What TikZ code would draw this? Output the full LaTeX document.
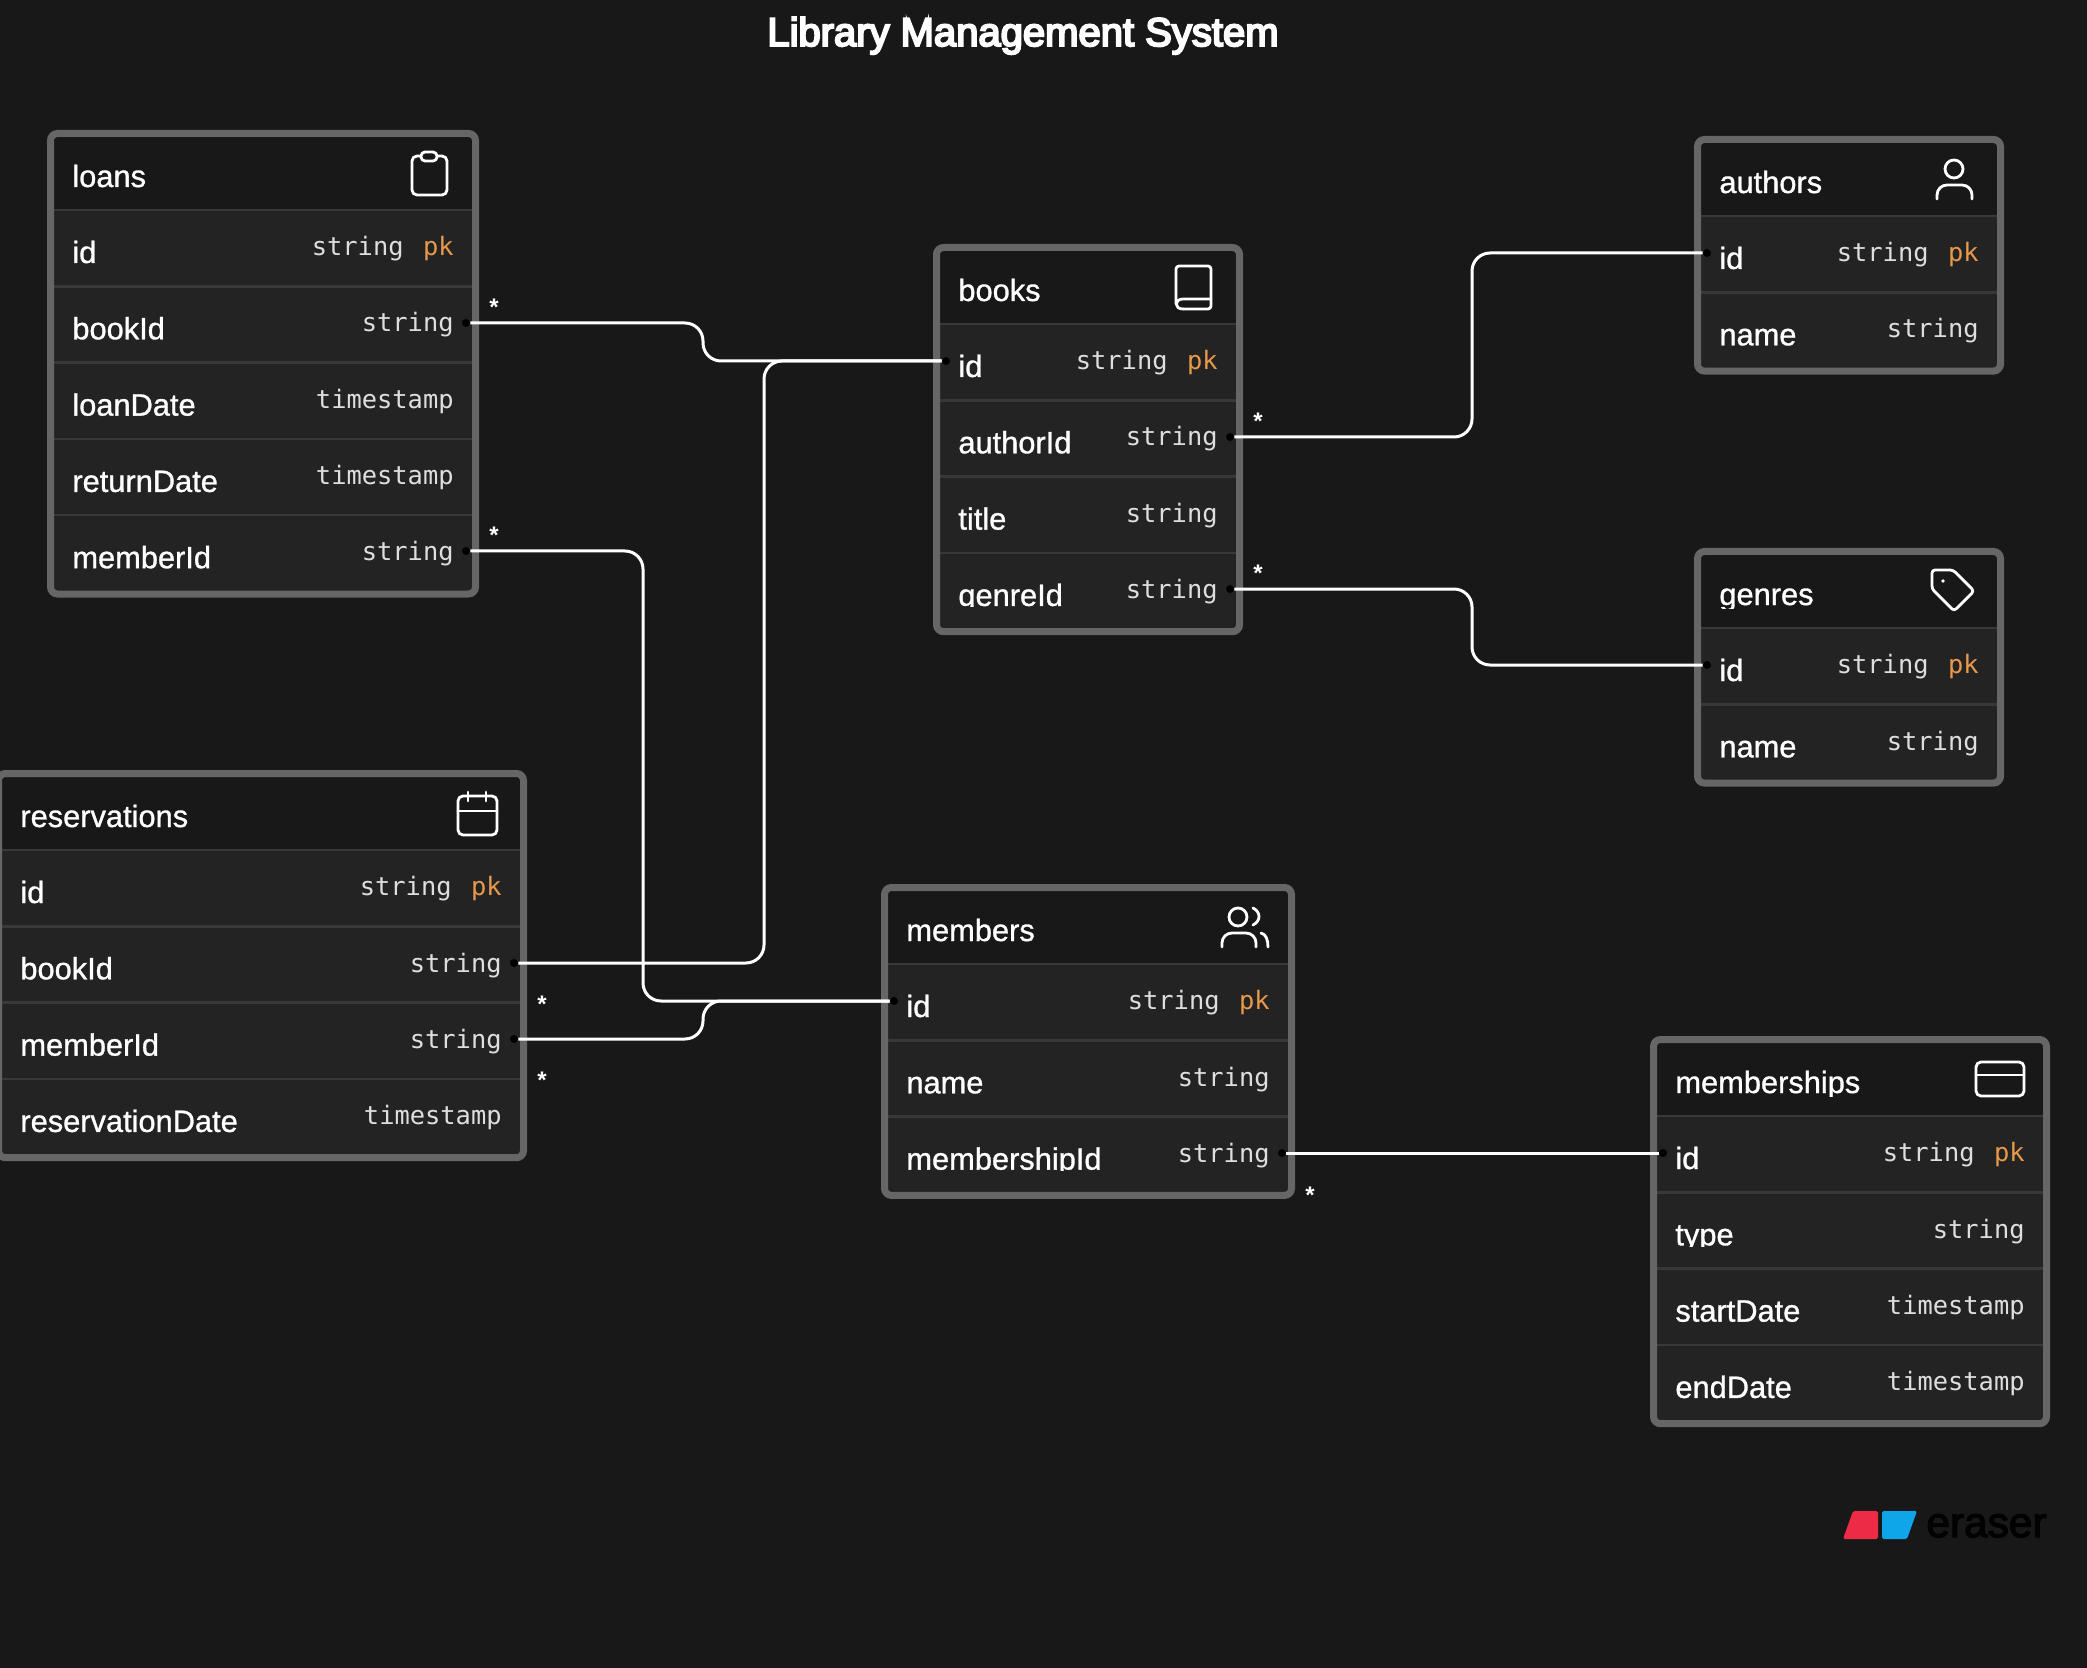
\documentclass[tikz,border=0pt]{standalone}
\usepackage{fontspec}
\setmainfont{Liberation Sans}
\setmonofont{DejaVu Sans Mono}
\newfontfamily\headingfont[FakeBold=5]{Liberation Sans}
\newfontfamily\fieldfont[FakeBold=1]{Liberation Sans}
\newfontfamily\logofont[FakeBold=3]{Liberation Sans}
\definecolor{bgdark}{HTML}{181818}
\definecolor{rowbg}{HTML}{232323}
\definecolor{rowline}{HTML}{383838}
\definecolor{tableborder}{HTML}{666666}
\definecolor{typegray}{HTML}{DEDEDE}
\definecolor{pkorange}{HTML}{E8994A}
\definecolor{eraserred}{HTML}{EE2B46}
\definecolor{eraserblue}{HTML}{0EA5E9}
\tikzset{
  fieldname/.style={text=white,inner sep=0pt,anchor=base west,font=\fieldfont\fontsize{15.4}{18}\selectfont},
  fieldtype/.style={text=typegray,inner sep=0pt,anchor=base east,font=\ttfamily\fontsize{12.7}{15}\selectfont},
  pkmark/.style={fieldtype,text=pkorange},
  port/.style={circle,fill=black,inner sep=0pt,minimum size=4pt},
  link/.style={white,line width=1.5pt,rounded corners=9pt},
  many/.style={text=white,inner sep=0pt,font=\bfseries\fontsize{12}{12}\selectfont},
  icon/.style={white,line width=1.4pt,line cap=round,line join=round}
}
% id, left, top, right, title, rows
\newcommand{\erdtable}[6]{
  \def\rowh{76.3}
  \foreach \fname/\ftype [count=\i] in {#6} \global\let\nrows\i;
  \fill[rowbg,rounded corners=3pt] ({#2+3},{#3+3}) rectangle ({#4-3},{#3+86+\rowh*\nrows-3});
  \fill[bgdark] ({#2+3},{#3+3}) rectangle ({#4-3},{#3+80});
  \begin{scope}
    \clip ({#2+3},{#3+3}) rectangle ({#4-3},{#3+60});
    \node[fieldname] (#1-title) at ({#2+25},{#3+57}) {#5};
  \end{scope}
  \foreach \fname/\ftype [count=\i] in {#6} {
    \draw[rowline,line width=1.25pt] ({#2+5},{#3+80+\rowh*(\i-1)}) -- ({#4-5},{#3+80+\rowh*(\i-1)});
    \begin{scope}
      \clip ({#2+3},{#3+80+\rowh*(\i-1)}) rectangle ({#4-3},{#3+80+\rowh*(\i-1)+54});
      \node[fieldname] (#1-name\i) at ({#2+25},{#3+80+\rowh*(\i-1)+53}) {\fname};
    \end{scope}
    \ifnum\i=1
      \node[pkmark] (#1-pk) at ({#4-25},{#3+80+45.7}) {pk};
      \node[fieldtype] (#1-type1) at ({#4-75},{#3+80+45.7}) {\ftype};
    \else
      \node[fieldtype] (#1-type\i) at ({#4-25},{#3+80+\rowh*(\i-1)+45.7}) {\ftype};
    \fi
  }
  \draw[tableborder,line width=3.5pt,rounded corners=3.5pt] ({#2+3.5},{#3+3.5}) rectangle ({#4-3.5},{#3+82.5+\rowh*\nrows});
}
\begin{document}
\begin{tikzpicture}[x=0.5pt,y=-0.5pt]
  \useasboundingbox (0,0) rectangle (2087,1668);
  \fill[bgdark] (0,0) rectangle (2087,1668);

  \node[text=white,inner sep=0pt,anchor=base,font=\headingfont\fontsize{20}{24}\selectfont] (heading) at (1023,46) {Library Management System};

  \erdtable{loans}{47}{130}{479}{loans}{id/string,bookId/string,loanDate/timestamp,returnDate/timestamp,memberId/string}
  \erdtable{books}{933}{244}{1243}{books}{id/string,authorId/string,title/string,genreId/string}
  \erdtable{authors}{1694}{136}{2004}{authors}{id/string,name/string}
  \erdtable{genres}{1694}{548}{2004}{genres}{id/string,name/string}
  \erdtable{reservations}{-5}{770}{527}{reservations}{id/string,bookId/string,memberId/string,reservationDate/timestamp}
  \erdtable{members}{881}{884}{1295}{members}{id/string,name/string,membershipId/string}
  \erdtable{memberships}{1650}{1036}{2050}{memberships}{id/string,type/string,startDate/timestamp,endDate/timestamp}

  % ports
  \node[port] (loansBook) at (466,323) {};
  \node[port] (loansMember) at (466,551) {};
  \node[port] (booksId) at (946,361) {};
  \node[port] (booksAuthor) at (1230,437) {};
  \node[port] (booksGenre) at (1230,589) {};
  \node[port] (authorsId) at (1707,253) {};
  \node[port] (genresId) at (1707,665) {};
  \node[port] (resBook) at (514,963) {};
  \node[port] (resMember) at (514,1039) {};
  \node[port] (membersId) at (894,1001) {};
  \node[port] (membersShip) at (1282,1153) {};
  \node[port] (shipsId) at (1663,1153) {};

  % bends
  \coordinate (bendA) at (703,342);
  \coordinate (bendB) at (764,700);
  \coordinate (bendC) at (643,800);
  \coordinate (bendD) at (703,1020);
  \coordinate (bendE) at (1472,345);
  \coordinate (bendF) at (1472,627);

  \foreach \from/\bend/\to in {loansBook/bendA/booksId,resBook/bendB/booksId,loansMember/bendC/membersId,resMember/bendD/membersId,booksAuthor/bendE/authorsId,booksGenre/bendF/genresId}
    \draw[link] (\from) -- (\from -| \bend) -- (\to -| \bend) -- (\to);
  \draw[link] (membersShip) -- (shipsId);

  % many marks
  \foreach \sx/\sy [count=\k] in {494/307,494/535,1258/421,1258/573,542/1004,542/1080,1310/1195}
    \node[many] (star\k) at (\sx,\sy) {*};

  % icons
  \draw[icon,rounded corners=2.5pt] (412,156) rectangle (447,195);
  \draw[icon,fill=bgdark,rounded corners=2pt] (421,152) rectangle (437,161);
  \draw[icon] (1954,169) circle (4.5pt);
  \draw[icon,rounded corners=5pt] (1937,199) -- (1937,185) -- (1972,185) -- (1972,199);
  \draw[icon,rounded corners=1.5pt] (1932,570) -- (1953,570) -- (1974,591) -- (1954,611) -- (1932,589) -- cycle;
  \fill[white] (1943,581) circle (0.9pt);
  \draw[icon,rounded corners=2.5pt] (458,796) rectangle (497,835);
  \draw[icon] (458,811) -- (497,811) (468,792) -- (468,801) (486,792) -- (486,801);
  \draw[icon] (1238,917) circle (4.5pt);
  \draw[icon] (1253,908) .. controls (1261,912) and (1261,921) .. (1253,925);
  \draw[icon,rounded corners=5pt] (1222,947) -- (1222,933) -- (1256,933) -- (1256,947);
  \draw[icon] (1261,933) .. controls (1266,934) and (1268,940) .. (1268,947);
  \draw[icon,rounded corners=1.5pt] (1176,304) -- (1176,266) -- (1211,266) -- (1211,309) -- (1183,309);
  \draw[icon] (1211,299) -- (1183,299) .. controls (1174,299) and (1174,309) .. (1183,309);
  \draw[icon,rounded corners=2.5pt] (1976,1062) rectangle (2024,1096);
  \draw[icon] (1976,1075) -- (2024,1075);

  % logo
  \fill[eraserred,rounded corners=0.8pt] (1853,1511) -- (1878,1511) -- (1878,1539) -- (1843,1539) -- cycle;
  \fill[eraserblue,rounded corners=0.8pt] (1882,1511) -- (1917,1511) -- (1907,1539) -- (1882,1539) -- cycle;
  \node[text=black!90!bgdark,inner sep=0pt,anchor=base west,font=\logofont\fontsize{21.2}{24}\selectfont] (logotext) at (1926,1537) {eraser};
\end{tikzpicture}
\end{document}
